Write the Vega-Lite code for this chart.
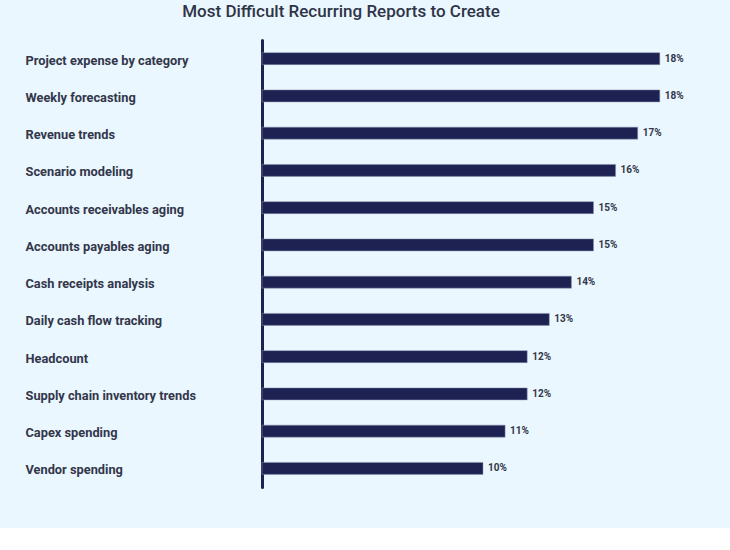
{
  "$schema": "https://vega.github.io/schema/vega-lite/v6.json",
  "description": "Most difficult recurring reports to create",
  "autosize": {"type": "none"},
  "width": 442,
  "height": 447,
  "padding": {"left": 262, "top": 40, "right": 26, "bottom": 41},
  "background": "#eaf7fe",
  "title": {
    "text": "Most Difficult Recurring Reports to Create",
    "anchor": "middle",
    "dx": -142,
    "offset": 19,
    "font": "Roboto",
    "fontSize": 17,
    "fontWeight": 500,
    "color": "#2f3447"
  },
  "data": {
    "values": [
      {"report": "Project expense by category", "share": 0.18},
      {"report": "Weekly forecasting", "share": 0.18},
      {"report": "Revenue trends", "share": 0.17},
      {"report": "Scenario modeling", "share": 0.16},
      {"report": "Accounts receivables aging", "share": 0.15},
      {"report": "Accounts payables aging", "share": 0.15},
      {"report": "Cash receipts analysis", "share": 0.14},
      {"report": "Daily cash flow tracking", "share": 0.13},
      {"report": "Headcount", "share": 0.12},
      {"report": "Supply chain inventory trends", "share": 0.12},
      {"report": "Capex spending", "share": 0.11},
      {"report": "Vendor spending", "share": 0.10}
    ]
  },
  "encoding": {
    "y": {
      "field": "report",
      "type": "nominal",
      "sort": null,
      "axis": {
        "title": null,
        "labelAlign": "left",
        "labelPadding": 237,
        "labelFont": "Roboto",
        "labelFontSize": 12.8,
        "labelFontWeight": "bold",
        "labelColor": "#33364a",
        "labelOffset": 2,
        "ticks": false,
        "domainColor": "#1d2253",
        "domainWidth": 3,
        "domainCap": "round"
      }
    },
    "x": {
      "field": "share",
      "type": "quantitative",
      "scale": {"domain": [0, 0.2]},
      "axis": null
    }
  },
  "layer": [
    {
      "mark": {"type": "bar", "size": 12, "color": "#1d2253", "stroke": "#8c93ad", "strokeWidth": 0.5}
    },
    {
      "mark": {
        "type": "text",
        "align": "left",
        "dx": 5,
        "font": "Roboto",
        "fontSize": 10,
        "fontWeight": "bold",
        "color": "#33364a"
      },
      "encoding": {
        "text": {"field": "share", "type": "quantitative", "format": ".0%"}
      }
    }
  ],
  "config": {
    "view": {"stroke": null},
    "axis": {"grid": false}
  }
}
